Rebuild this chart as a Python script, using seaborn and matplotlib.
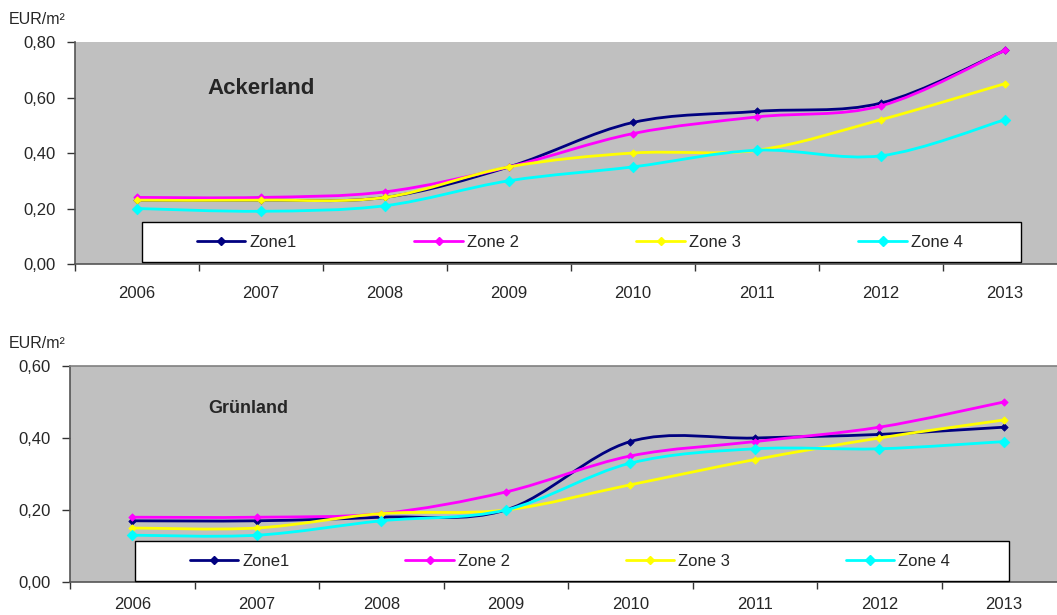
import numpy as np
import pandas as pd
import matplotlib
matplotlib.use("Agg")
import matplotlib.pyplot as plt
import seaborn as sns
from matplotlib.path import Path
from matplotlib.patches import PathPatch, Rectangle
from matplotlib.lines import Line2D
from matplotlib.ticker import FuncFormatter, FixedLocator

# ---------------- data ----------------
years = ["2006", "2007", "2008", "2009", "2010", "2011", "2012", "2013"]
zones = ["Zone1", "Zone 2", "Zone 3", "Zone 4"]

acker_zone1 = [0.23, 0.23, 0.24, 0.35, 0.51, 0.55, 0.58, 0.77]
acker_zone2 = [0.24, 0.24, 0.26, 0.35, 0.47, 0.53, 0.57, 0.77]
acker_zone3 = [0.23, 0.23, 0.24, 0.35, 0.40, 0.41, 0.52, 0.65]
acker_zone4 = [0.20, 0.19, 0.21, 0.30, 0.35, 0.41, 0.39, 0.52]

gruen_zone1 = [0.17, 0.17, 0.18, 0.20, 0.39, 0.40, 0.41, 0.43]
gruen_zone2 = [0.18, 0.18, 0.19, 0.25, 0.35, 0.39, 0.43, 0.50]
gruen_zone3 = [0.15, 0.15, 0.19, 0.20, 0.27, 0.34, 0.40, 0.45]
gruen_zone4 = [0.13, 0.13, 0.17, 0.20, 0.33, 0.37, 0.37, 0.39]

colors = ["#000080", "#FF00FF", "#FFFF00", "#00FFFF"]
marker_sizes = [3.8, 3.8, 3.8, 5.4]

sns.set_style("ticks")
plt.rcParams["font.family"] = ["Liberation Sans", "DejaVu Sans"]

W, H = 1057, 615
fig = plt.figure(figsize=(W / 100, H / 100), dpi=100)


def px_axes(left, right, top, bottom):
    return fig.add_axes([left / W, (H - bottom) / H, (right - left) / W, (bottom - top) / H])


def smooth_path(xs, ys):
    pts = np.column_stack([xs, ys]).astype(float)
    n = len(pts)
    verts = [pts[0]]
    codes = [Path.MOVETO]
    for i in range(n - 1):
        p0 = pts[i - 1] if i > 0 else pts[i]
        p1 = pts[i]
        p2 = pts[i + 1]
        p3 = pts[i + 2] if i + 2 < n else pts[i + 1]
        c1 = p1 + (p2 - p0) / 6.0
        c2 = p2 - (p3 - p1) / 6.0
        verts += [c1, c2, p2]
        codes += [Path.CURVE4] * 3
    return Path(verts, codes)


def draw_panel(ax, series, ymax, title, title_xy, title_size, legend_rect, legend_bbox, xpad):
    ax.set_facecolor("#C0C0C0")
    x = np.arange(len(years))
    for i, (name, vals) in enumerate(zip(zones, series)):
        df = pd.DataFrame({"x": x, "y": vals})
        patch = PathPatch(smooth_path(x, vals), facecolor="none", edgecolor=colors[i],
                          lw=2.0, zorder=2 + 2 * i, capstyle="round", joinstyle="round")
        ax.add_patch(patch)
        sns.scatterplot(data=df, x="x", y="y", ax=ax, marker="D", color=colors[i],
                        s=marker_sizes[i] ** 2, edgecolor=colors[i], linewidth=0.5,
                        zorder=3 + 2 * i, legend=False)
    ax.set_xlim(-0.5, len(years) - 0.5)
    ax.set_ylim(0, ymax)
    ax.set_xlabel("")
    ax.set_ylabel("")
    ax.yaxis.set_major_locator(FixedLocator(np.arange(0, ymax + 0.001, 0.2)))
    ax.yaxis.set_major_formatter(FuncFormatter(lambda v, p: f"{v:.2f}".replace(".", ",")))
    ax.xaxis.set_major_locator(FixedLocator(np.arange(-0.5, len(years), 1.0)))
    ax.xaxis.set_major_formatter(FuncFormatter(lambda v, p: ""))
    ax.xaxis.set_minor_locator(FixedLocator(x))
    ax.set_xticklabels(years, minor=True)
    ax.tick_params(axis="x", which="major", direction="out", length=5, width=1, color="#333333")
    ax.tick_params(axis="x", which="minor", length=0, pad=xpad, labelsize=12)
    ax.tick_params(axis="y", which="major", direction="out", length=6, width=1,
                   color="#333333", pad=8, labelsize=12)
    for s in ["left", "bottom"]:
        ax.spines[s].set_color("#555555")
        ax.spines[s].set_linewidth(1.2)
    ax.spines["right"].set_visible(False)

    ax.text(title_xy[0], title_xy[1], title, fontsize=title_size, fontweight="bold",
            ha="center", va="center", zorder=20)

    x0, y0, x1, y1 = legend_rect
    ax.add_patch(Rectangle((x0, y0), x1 - x0, y1 - y0, transform=ax.transAxes,
                           facecolor="white", edgecolor="black", lw=1.0, zorder=15,
                           clip_on=False))
    handles = [Line2D([0], [0], color=colors[i], lw=2.0, marker="D",
                      markersize=marker_sizes[i], markeredgecolor=colors[i])
               for i in range(len(zones))]
    leg = ax.legend(handles, zones, loc="center", ncol=4, mode="expand",
                    bbox_to_anchor=legend_bbox, frameon=False, fontsize=12,
                    handlelength=2.9, handletextpad=0.25, borderpad=0,
                    borderaxespad=0, columnspacing=1.0)
    leg.set_zorder(16)


# top panel: Ackerland
ax1 = px_axes(75, 1067, 42, 264)
draw_panel(ax1, [acker_zone1, acker_zone2, acker_zone3, acker_zone4], 0.8,
           "Ackerland", (1.0, 0.634), 16,
           (0.0675, 0.009, 0.9536, 0.189),
           (0.123, 0.009, 0.895 - 0.123, 0.18), 16)
ax1.spines["top"].set_visible(False)

# bottom panel: Grünland
ax2 = px_axes(70, 1066, 366, 582)
draw_panel(ax2, [gruen_zone1, gruen_zone2, gruen_zone3, gruen_zone4], 0.6,
           "Grünland", (0.93, 0.483), 13,
           (0.0653, 0.003, 0.9428, 0.188),
           (0.1205, 0.003, 0.8835 - 0.1205, 0.185), 11)
ax2.spines["top"].set_visible(True)
ax2.spines["top"].set_color("#808080")
ax2.spines["top"].set_linewidth(1.2)

fig.text(9 / W, (H - 19) / H, "EUR/m²", fontsize=11.5, ha="left", va="center")
fig.text(9 / W, (H - 343) / H, "EUR/m²", fontsize=11.5, ha="left", va="center")

fig.savefig("out.png", dpi=100)
